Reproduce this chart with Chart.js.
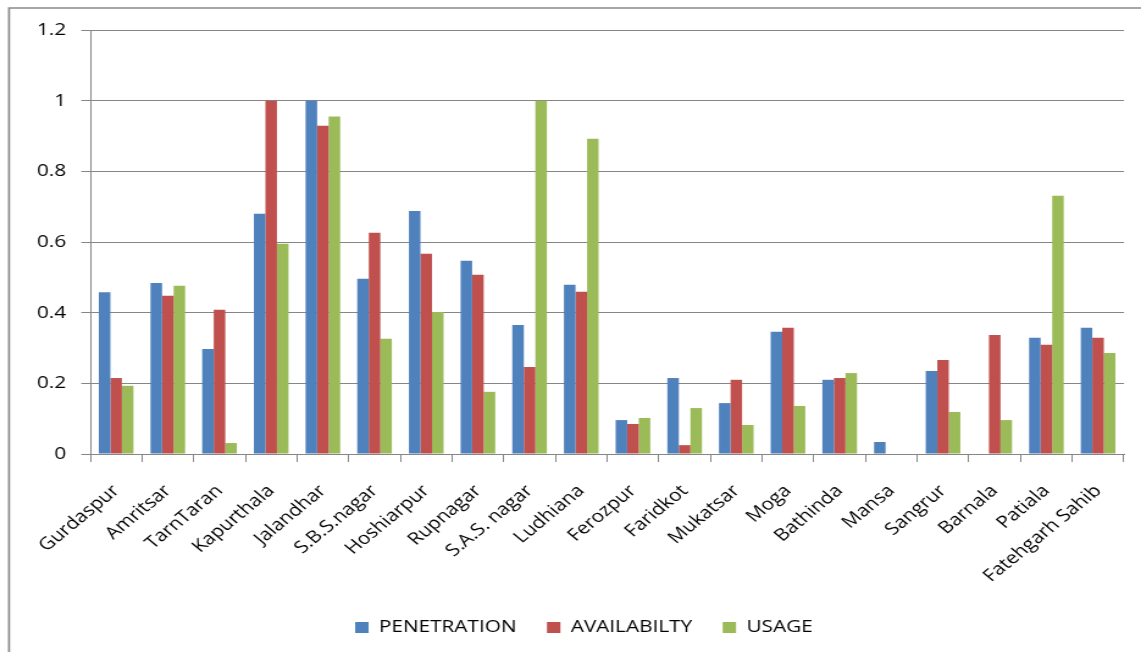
<!DOCTYPE html>
<html>
<head>
<meta charset="utf-8">
<script src="https://cdn.jsdelivr.net/npm/chart.js@4"></script>
<style>
html,body{margin:0;padding:0;background:#fff;overflow:hidden;}
#wrap{position:relative;width:935px;height:652px;transform:scaleX(1.22032);transform-origin:0 0;}
canvas{display:block;}
</style>
</head>
<body>
<div id="wrap"><canvas id="c" width="935" height="652"></canvas></div>
<script>
const categories = ["Gurdaspur","Amritsar","TarnTaran","Kapurthala","Jalandhar","S.B.S.nagar","Hoshiarpur","Rupnagar","S.A.S. nagar","Ludhiana","Ferozpur","Faridkot","Mukatsar","Moga","Bathinda","Mansa","Sangrur","Barnala","Patiala","Fatehgarh Sahib"];
const penetration = [0.458,0.484,0.297,0.680,1.0,0.496,0.688,0.547,0.365,0.479,0.096,0.215,0.144,0.346,0.210,0.034,0.235,0,0.329,0.357];
const availability = [0.215,0.448,0.408,1.0,0.929,0.626,0.567,0.507,0.246,0.459,0.085,0.025,0.210,0.357,0.215,0,0.266,0.337,0.309,0.329];
const usage = [0.193,0.476,0.031,0.595,0.955,0.326,0.402,0.176,1.0,0.892,0.102,0.130,0.082,0.136,0.229,0,0.119,0.096,0.731,0.286];
const seriesNames = ["PENETRATION","AVAILABILTY","USAGE"];
const yTicks = [0,0.2,0.4,0.6,0.8,1,1.2];

const FONT = "'Open Sans', 'Liberation Sans', sans-serif";
const GRID = '#868686';

const framePlugin = {
  id: 'frame',
  beforeDraw(chart){
    const ctx = chart.ctx;
    ctx.save();
    ctx.strokeStyle = '#8a8a8a';
    ctx.lineWidth = 1.7;
    ctx.beginPath();
    ctx.moveTo(7.4, 652);
    ctx.lineTo(7.4, 8);
    ctx.lineTo(935, 8);
    ctx.stroke();
    ctx.restore();
  },
  afterLayout(chart){
    const lg = chart.legend;
    if (lg) { lg.left += 18; lg.right += 18; }
  }
};

new Chart(document.getElementById('c'), {
  type: 'bar',
  data: {
    labels: categories,
    datasets: [
      {label: seriesNames[0], data: penetration, backgroundColor: '#4F81BD'},
      {label: seriesNames[1], data: availability, backgroundColor: '#C0504D'},
      {label: seriesNames[2], data: usage, backgroundColor: '#9BBB59'}
    ]
  },
  options: {
    responsive: false,
    animation: false,
    layout: {padding: {left: 0, right: 14, top: 30, bottom: 6}},
    datasets: {bar: {categoryPercentage: 0.67, barPercentage: 1.0}},
    plugins: {
      legend: {
        position: 'bottom',
        labels: {
          boxWidth: 11, boxHeight: 11, padding: 25,
          color: '#000',
          font: {family: FONT, size: 17}
        }
      },
      tooltip: {enabled: false}
    },
    scales: {
      x: {
        grid: {drawOnChartArea: false, drawTicks: true, tickLength: 8, color: GRID, offset: true},
        border: {display: true, color: GRID},
        ticks: {color: '#000', font: {family: FONT, size: 17}, maxRotation: 45, minRotation: 45, autoSkip: false, padding: 19},
        afterFit(s){ s.height = 140; }
      },
      y: {
        min: 0, max: 1.2,
        afterBuildTicks(s){ s.ticks = yTicks.map(v => ({value: v})); },
        grid: {color: GRID, tickLength: 7.4},
        border: {display: true, color: GRID},
        ticks: {color: '#000', font: {family: FONT, size: 17}, padding: 12.5,
          callback: v => String(+v.toFixed(1))},
        afterFit(s){ s.width = 74; }
      }
    }
  },
  plugins: [framePlugin]
});
</script>
</body>
</html>
